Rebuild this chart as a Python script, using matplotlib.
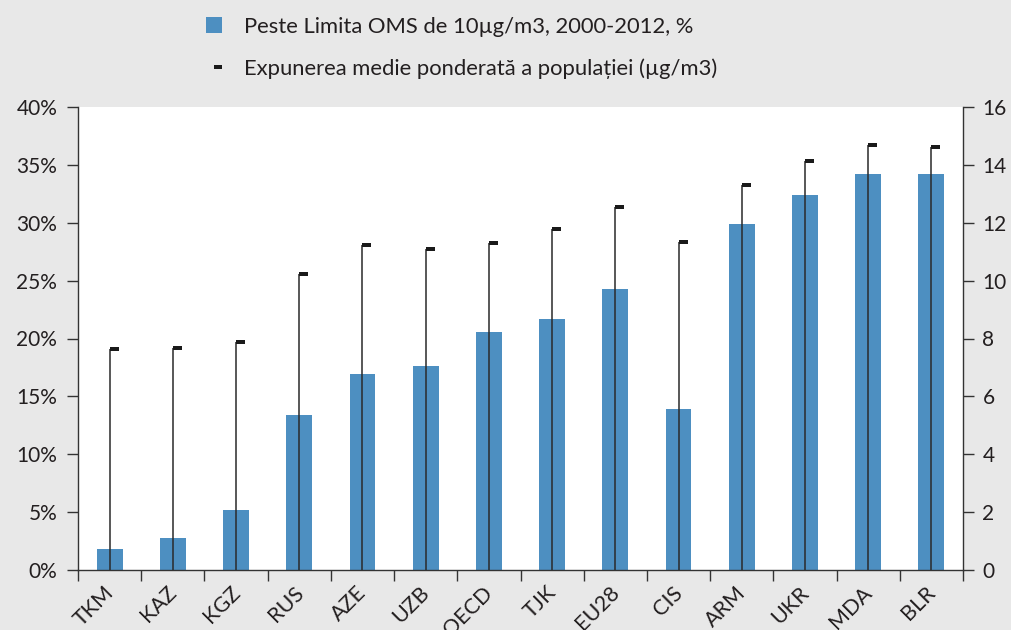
import matplotlib
matplotlib.use('Agg')
import matplotlib.pyplot as plt
import numpy as np
from matplotlib.path import Path
from matplotlib.patches import Patch
from matplotlib.lines import Line2D
import matplotlib.transforms as mtransforms

plt.rcParams['font.family'] = ['Lato', 'DejaVu Sans']

# date
tari = ['TKM', 'KAZ', 'KGZ', 'RUS', 'AZE', 'UZB', 'OECD', 'TJK', 'EU28', 'CIS',
        'ARM', 'UKR', 'MDA', 'BLR']
peste_limita = [1.8, 2.8, 5.2, 13.4, 16.9, 17.6, 20.6, 21.7, 24.3, 13.9,
                29.9, 32.4, 34.2, 34.2]          # %
expunere = [7.62, 7.67, 7.88, 10.23, 11.23, 11.09, 11.3, 11.78, 12.54, 11.33,
            13.3, 14.13, 14.69, 14.62]           # ug/m3

albastru = '#4d8fc1'
gri_fond = '#e8e8e8'
negru = '#231f20'

# liniuta scurta, pleaca din centru spre dreapta
liniuta = Path([(0, -0.2), (1, -0.2), (1, 0.2), (0, 0.2), (0, -0.2)],
               [Path.MOVETO, Path.LINETO, Path.LINETO, Path.LINETO, Path.CLOSEPOLY])

fig = plt.figure(figsize=(10.11, 6.30), dpi=100, facecolor=gri_fond)
ax = fig.add_axes([78/1011, 60/630, 885/1011, 463/630])
ax.set_facecolor('white')
ax2 = ax.twinx()

x = np.arange(len(tari))
ax.bar(x, peste_limita, width=0.41, color=albastru, zorder=2)
ax.set_xlim(-0.5, len(tari) - 0.5)
ax.set_ylim(0, 40)
ax.set_yticks(np.arange(0, 41, 5))
ax.set_yticklabels([f'{v}%' for v in range(0, 41, 5)])

ax2.vlines(x, 0, expunere, color='#2a2a2a', lw=1.1)
ax2.plot(x, expunere, ls='none', marker=liniuta, ms=13, color='#1a1a1a', mew=0)
ax2.set_ylim(0, 16)
ax2.set_yticks(np.arange(0, 17, 2))

# ticks pe x la granitele dintre categorii, etichetele separat
ax.set_xticks(np.arange(-0.5, len(tari), 1))
ax.set_xticklabels([])
ax.set_xticks(x, minor=True)
ax.set_xticklabels(tari, minor=True, rotation=45, ha='right', va='top')
ax.tick_params(axis='x', which='minor', length=0, pad=9)
offset = mtransforms.ScaledTranslation(8/100, 0, fig.dpi_scale_trans)
for lbl in ax.get_xticklabels(minor=True):
    lbl.set_transform(lbl.get_transform() + offset)

for a in (ax, ax2):
    for s in a.spines.values():
        s.set_color('#333333')
        s.set_linewidth(1)
    a.spines['top'].set_visible(False)
    a.tick_params(axis='both', which='major', direction='out', length=8,
                  width=1, color='#333333', labelsize=15, labelcolor=negru)
    a.tick_params(axis='x', which='minor', labelsize=15.5, labelcolor=negru)
ax.spines['right'].set_visible(False)
ax2.spines['left'].set_visible(False)
ax2.spines['bottom'].set_visible(False)
ax.tick_params(axis='y', pad=7)
ax2.tick_params(axis='y', pad=6)

handles = [Patch(facecolor=albastru, edgecolor='none'),
           Line2D([], [], ls='none', marker=liniuta, ms=12, color='#1a1a1a', mew=0)]
labels = ['Peste Limita OMS de 10µg/m3, 2000-2012, %',
          'Expunerea medie ponderată a populației (µg/m3)']
fig.legend(handles, labels, loc='upper left', bbox_to_anchor=(0.184, 1.005),
           frameon=False, fontsize=15.8, labelspacing=1.0, handlelength=0.75,
           handleheight=0.75, handletextpad=0.98, labelcolor=negru)

fig.savefig('out.png', dpi=100, facecolor=gri_fond)
